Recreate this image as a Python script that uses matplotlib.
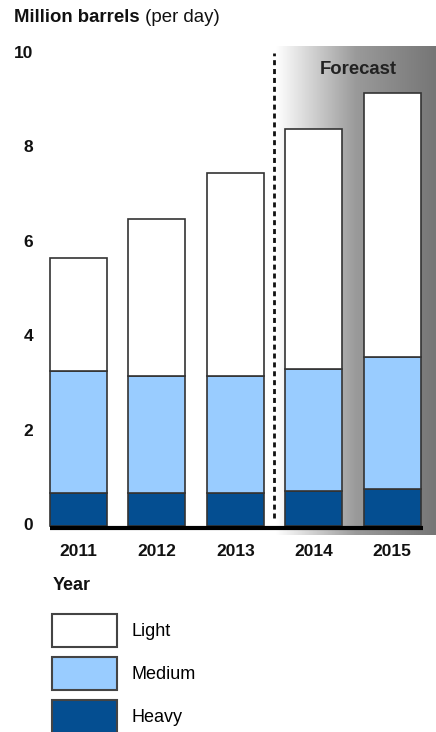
import numpy as np
import matplotlib.pyplot as plt
from matplotlib.colors import LinearSegmentedColormap

plt.rcParams['font.family'] = ['Liberation Sans', 'DejaVu Sans']

# Datos (millones de barriles por día)
years = ['2011', '2012', '2013', '2014', '2015']
heavy = [0.69, 0.69, 0.70, 0.75, 0.78]
medium = [2.59, 2.48, 2.47, 2.56, 2.79]
light = [2.38, 3.32, 4.29, 5.08, 5.59]
y_ticks = [0, 2, 4, 6, 8, 10]

c_light = '#ffffff'
c_medium = '#99ccff'
c_heavy = '#044e91'
edge = '#333333'

fig = plt.figure(figsize=(4.36, 7.32), dpi=100)
W, H = 436, 732
# ejes en píxeles: izquierda 40, derecha 436, arriba 40, abajo 540
ax = fig.add_axes([40 / W, (H - 540) / H, 396 / W, 500 / H])
ax.set_xlim(-0.491, 4.56)
ax.set_ylim(-0.296, 10.275)
ax.axis('off')

x = np.arange(len(years))

# Zona de pronóstico con degradado
cmap = LinearSegmentedColormap.from_list('fc', [(0, '#ffffff'), (0.5, '#9a9a9a'), (1, '#767676')])
grad = np.linspace(0, 1, 256).reshape(1, -1)
ax.imshow(grad, cmap=cmap, aspect='auto', extent=[2.52, 4.56, -0.19, 10.13],
          zorder=0, interpolation='bilinear')
ax.text(3.57, 9.66, 'Forecast', ha='center', va='center', fontsize=13.3,
        fontweight='bold', color='#222222')

# Línea punteada de separación
ax.plot([2.494, 2.494], [0.17, 10.0], color='#111111', lw=2,
        linestyle=(0, (1.8, 1.4)), zorder=2)

w = 0.727
b_heavy = ax.bar(x, heavy, w, color=c_heavy, edgecolor=edge, lw=1.2, zorder=3)
b_medium = ax.bar(x, medium, w, bottom=heavy, color=c_medium, edgecolor=edge, lw=1.2, zorder=3)
bottom_light = np.array(heavy) + np.array(medium)
b_light = ax.bar(x, light, w, bottom=bottom_light, color=c_light, edgecolor=edge, lw=1.2, zorder=3)

# Línea base
ax.plot([-0.364, 4.394], [-0.04, -0.04], color='black', lw=3, solid_capstyle='butt', zorder=4)

# Etiquetas de los ejes
for t in y_ticks:
    ax.text(-0.575, t, str(t), ha='right', va='center', fontsize=12.5,
            fontweight='bold', color='#111111')
for xi, yr in zip(x, years):
    ax.text(xi, -0.54, yr, ha='center', va='center', fontsize=12.5,
            fontweight='bold', color='#111111')

# Título
t1 = fig.text(14 / W, 1 - 18 / H, 'Million barrels', ha='left', va='center',
              fontsize=13.4, fontweight='bold', color='#111111')
ax.annotate(' (per day)', xy=(1, 0), xycoords=t1, ha='left', va='bottom',
            fontsize=13.4, color='#111111', annotation_clip=False)

# Leyenda
fig.text(53 / W, 1 - 586 / H, 'Year', ha='left', va='center', fontsize=13,
         fontweight='bold', color='#111111')
leg = fig.legend([b_light, b_medium, b_heavy], ['Light', 'Medium', 'Heavy'],
                 loc='upper left', bbox_to_anchor=(52 / W, 1 - 614 / H),
                 frameon=False, fontsize=13, borderpad=0, borderaxespad=0,
                 handlelength=3.6, handleheight=2.43, labelspacing=0.55,
                 handletextpad=0.78)
for p in leg.get_patches():
    p.set_edgecolor('#444444')
    p.set_linewidth(1.5)

fig.savefig('out.png', dpi=100)
